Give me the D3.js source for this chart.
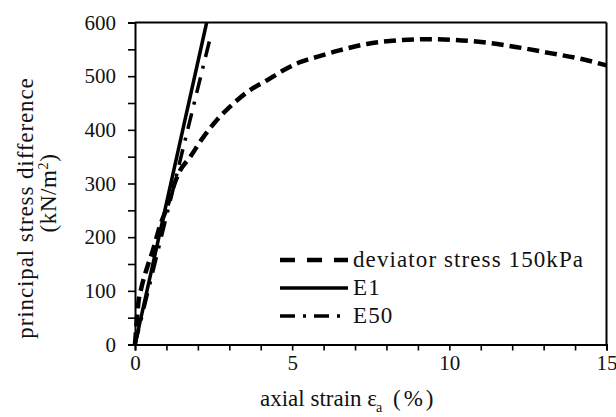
<!DOCTYPE html>
<html>
<head>
<meta charset="utf-8">
<script src="https://cdn.jsdelivr.net/npm/d3@7/dist/d3.min.js"></script>
<style>
  html, body { margin: 0; padding: 0; background: #fff; }
  svg { display: block; }
  svg text { font-family: "Liberation Serif", "Times New Roman", "DejaVu Serif", serif !important; fill: #111; }
</style>
</head>
<body>
<svg id="chart" width="616" height="417"></svg>
<script>
// Triaxial test: deviator stress vs axial strain, with E1 and E50 moduli lines
const curveStrain = [0, 0.05, 0.11, 0.2, 0.32, 0.45, 0.55, 0.8, 1.0, 1.2, 1.38, 1.75, 2.18, 2.6, 3.13, 3.66, 4.19, 4.72, 5.25, 5.79, 6.5, 7.38, 8.44, 9.3, 10.03, 11.09, 12.16, 13.2, 14.28, 15];
const curveStress = [0, 40, 79, 105, 131, 155, 172, 222, 253, 290, 318, 349, 387, 418, 449, 474, 492, 511, 526, 536, 548, 560, 567, 569, 568, 563, 554, 543, 531, 520];
const e1Strain = [0, 2.28];
const e1Stress = [0, 600];
const e50Strain = [0, 2.42];
const e50Stress = [0, 578];
const xTicks = [0, 1, 2, 3, 4, 5, 6, 7, 8, 9, 10, 11, 12, 13, 14, 15];
const xLabelTicks = [0, 5, 10, 15];
const yTicks = [0, 50, 100, 150, 200, 250, 300, 350, 400, 450, 500, 550, 600];
const yLabelTicks = [0, 100, 200, 300, 400, 500, 600];
const seriesNames = ["deviator stress 150kPa", "E1", "E50"];

const svg = d3.select("#chart");
const m = { left: 135, right: 606.5, top: 22.5, bottom: 344.5 };
const serif = "'Liberation Serif', 'Times New Roman', 'DejaVu Serif', serif";

const x = d3.scaleLinear().domain([0, 15]).range([m.left, m.right]);
const y = d3.scaleLinear().domain([0, 600]).range([m.bottom, m.top]);

const styles = [
  { dash: "12,6", legendDash: "15,12", width: 4.5 },
  { dash: null, legendDash: null, width: 3.5 },
  { dash: "16,9,3,9", legendDash: "15,8,3,8", width: 3.5 }
];

// frame (top and right borders)
svg.append("line").attr("x1", m.left).attr("x2", m.right).attr("y1", m.top).attr("y2", m.top)
  .attr("stroke", "#000").attr("stroke-width", 2);
svg.append("line").attr("x1", m.right).attr("x2", m.right).attr("y1", m.top).attr("y2", m.bottom)
  .attr("stroke", "#000").attr("stroke-width", 2);

// axes
const xAxis = d3.axisBottom(x).tickValues(xTicks).tickSize(6).tickPadding(5)
  .tickFormat(d => xLabelTicks.includes(d) ? d : "");
const yAxis = d3.axisLeft(y).tickValues(yTicks).tickSize(7).tickPadding(12)
  .tickFormat(d => yLabelTicks.includes(d) ? d : "");

const gx = svg.append("g").attr("transform", `translate(0,${m.bottom})`).call(xAxis);
const gy = svg.append("g").attr("transform", `translate(${m.left},0)`).call(yAxis);
[gx, gy].forEach(g => {
  g.attr("font-family", serif).attr("font-size", 21);
  g.select(".domain").attr("stroke", "#000").attr("stroke-width", 2);
  g.selectAll(".tick line").attr("stroke", "#000").attr("stroke-width", 1.6);
  g.selectAll(".tick text").attr("fill", "#111").style("font-family", serif);
});

// series
const curvePts = curveStrain.map((v, i) => [v, curveStress[i]]);
const e1Pts = e1Strain.map((v, i) => [v, e1Stress[i]]);
const e50Pts = e50Strain.map((v, i) => [v, e50Stress[i]]);

const smooth = d3.line().x(d => x(d[0])).y(d => y(d[1])).curve(d3.curveMonotoneX);
const straight = d3.line().x(d => x(d[0])).y(d => y(d[1]));

const plot = svg.append("g");
plot.append("path").datum(curvePts).attr("d", smooth)
  .attr("fill", "none").attr("stroke", "#000")
  .attr("stroke-width", styles[0].width).attr("stroke-dasharray", styles[0].dash);
plot.append("path").datum(e50Pts).attr("d", straight)
  .attr("fill", "none").attr("stroke", "#000")
  .attr("stroke-width", styles[2].width).attr("stroke-dasharray", styles[2].dash);
plot.append("path").datum(e1Pts).attr("d", straight)
  .attr("fill", "none").attr("stroke", "#000")
  .attr("stroke-width", styles[1].width);

// legend
const legend = svg.append("g").attr("font-family", serif);
seriesNames.forEach((name, i) => {
  const base = 267 + i * 28;
  legend.append("line")
    .attr("x1", 280).attr("x2", 348).attr("y1", base - 7).attr("y2", base - 7)
    .attr("stroke", "#000").attr("stroke-width", styles[i].width)
    .attr("stroke-dasharray", styles[i].legendDash);
  legend.append("text").attr("x", 353).attr("y", base)
    .attr("font-size", 23).attr("letter-spacing", 1.1).text(name);
});

// axis titles
const titles = svg.append("g").attr("font-family", serif);
titles.append("text").attr("x", 260).attr("y", 406).attr("font-size", 23)
  .text("axial strain ε");
titles.append("text").attr("x", 376).attr("y", 412).attr("font-size", 14).text("a");
titles.append("text").attr("x", 393).attr("y", 406).attr("font-size", 23)
  .attr("letter-spacing", 3).text("(%)");

titles.append("text").attr("transform", "translate(33,208) rotate(-90)")
  .attr("text-anchor", "middle").attr("font-size", 23).attr("letter-spacing", 0.9)
  .text("principal stress difference");
const yl2 = titles.append("text").attr("transform", "translate(56,193) rotate(-90)")
  .attr("text-anchor", "middle").attr("font-size", 23).attr("letter-spacing", 0.6);
yl2.append("tspan").text("(kN/m");
yl2.append("tspan").attr("font-size", 14).attr("dy", -8).text("2");
yl2.append("tspan").attr("dy", 8).text(")");
</script>
</body>
</html>
